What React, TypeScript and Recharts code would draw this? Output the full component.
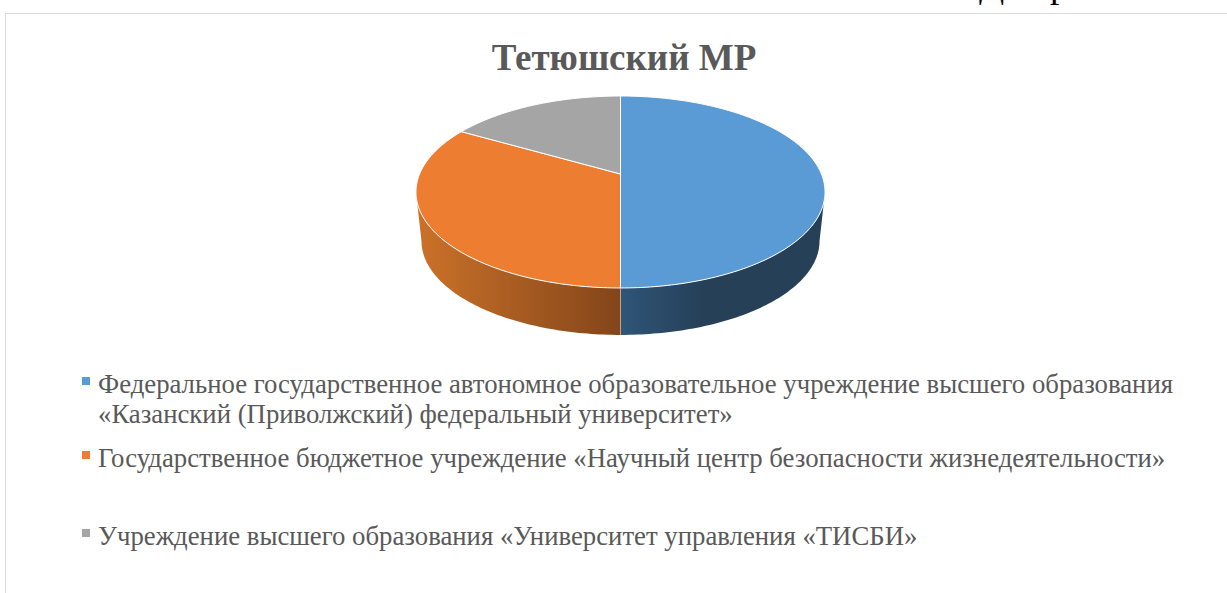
import { Legend, Pie, PieChart } from 'recharts';

const CATEGORIES = [
  'Федеральное государственное автономное образовательное учреждение высшего образования «Казанский (Приволжский) федеральный университет»',
  'Государственное бюджетное учреждение «Научный центр безопасности жизнедеятельности»',
  'Учреждение высшего образования «Университет управления «ТИСБИ»',
];
const VALUES = [3, 2, 1];
const COLORS = ['#5b9bd5', '#ed7d31', '#a5a5a5'];

const TITLE = 'Тетюшский МР';
const SERIF = '"Liberation Serif", serif';
const LEGEND_TOPS = [369, 443, 521];

const data = CATEGORIES.map((name, i) => ({ name, value: VALUES[i], fill: COLORS[i] }));

// the tilted disc: perspective makes the apex sit above the ellipse centre
const K = 0.1875;
const DISC = { ay: 174, h: 92.6, w: 200.9 };
const BASE = { ay: 223.3, h: 90.7, w: 195.5 };
const RIGHT_EDGE = 100.8;
const LEFT_EDGE = 259.2;

const project = (cx: number, disc: typeof DISC, deg: number) => {
  const t = (deg * Math.PI) / 180;
  const d = 1 + K * Math.cos(t);
  return [cx + (disc.w * Math.sin(t)) / d, disc.ay - (disc.h * Math.cos(t)) / d];
};

const arc = (cx: number, disc: typeof DISC, from: number, to: number) => {
  const pts: number[][] = [];
  const steps = Math.max(2, Math.ceil(Math.abs(to - from)));
  for (let i = 0; i <= steps; i++) pts.push(project(cx, disc, from + ((to - from) * i) / steps));
  return pts;
};

const toPath = (pts: number[][]) =>
  'M' + pts.map((p) => `${p[0].toFixed(2)},${p[1].toFixed(2)}`).join('L') + 'Z';

const Slice3D = (props: any) => {
  const { cx, startAngle, endAngle, fill, index } = props;
  const from = 90 - startAngle;
  const to = 90 - endAngle;
  const wallFrom = Math.max(from, RIGHT_EDGE);
  const wallTo = Math.min(to, LEFT_EDGE);
  const gradientId = `wall-${index}`;
  const top = toPath([[cx, DISC.ay], ...arc(cx, DISC, from, to)]);
  return (
    <g>
      {wallTo > wallFrom && (
        <>
          <defs>
            <linearGradient id={gradientId} x1="0" x2="1" y1="0" y2="0">
              {index === 0 ? (
                <>
                  <stop offset="0" stopColor="#2f5578" />
                  <stop offset="0.4" stopColor="#264058" />
                  <stop offset="1" stopColor="#264058" />
                </>
              ) : (
                <>
                  <stop offset="0" stopColor="#cc7229" />
                  <stop offset="1" stopColor="#83451a" />
                </>
              )}
            </linearGradient>
          </defs>
          <path
            d={toPath([...arc(cx, DISC, wallFrom, wallTo), ...arc(cx, BASE, wallTo, wallFrom)])}
            fill={`url(#${gradientId})`}
          />
          {index === 0 && (
            <path d={`M${cx},${project(cx, DISC, 180)[1]}V${project(cx, BASE, 180)[1]}`} stroke="#fff" strokeWidth={1} />
          )}
        </>
      )}
      <path d={top} fill={fill} stroke="#fff" strokeWidth={1} strokeLinejoin="round" />
    </g>
  );
};

const LegendBlock = ({ payload }: any) => (
  <div style={{ position: 'relative', width: 1227, height: 0 }}>
    {(payload || []).map((entry: any, i: number) => (
      <div
        key={entry.value}
        style={{
          position: 'absolute',
          left: 98,
          top: LEGEND_TOPS[i],
          width: 1085,
          fontFamily: SERIF,
          fontSize: 26.75,
          lineHeight: '30px',
          color: '#595959',
        }}
      >
        <span
          style={{
            position: 'absolute',
            left: -16,
            top: 8,
            width: 8,
            height: 8,
            background: entry.color,
          }}
        />
        {entry.value}
      </div>
    ))}
  </div>
);

export default function App() {
  return (
    <div style={{ position: 'absolute', left: 0, top: 0, width: 1227, height: 593, overflow: 'hidden', background: '#fff' }}>
      <div style={{ position: 'absolute', left: 5, top: 13, width: 1222, height: 580, borderTop: '1.5px solid #d9d9d9', borderLeft: '1.5px solid #d9d9d9', boxSizing: 'border-box' }} />
      <div style={{ position: 'absolute', left: 979, top: -34, fontFamily: SERIF, fontSize: 37, lineHeight: '37px', color: '#000' }}>Д</div>
      <div style={{ position: 'absolute', left: 1050, top: -34, fontFamily: SERIF, fontSize: 37, lineHeight: '37px', color: '#000' }}>р</div>
      <PieChart width={1227} height={593} margin={{ top: 0, right: 0, bottom: 0, left: 0 }} style={{ position: 'absolute', left: 0, top: 0 }}>
        <text x={624} y={70} textAnchor="middle" fontFamily={SERIF} fontSize={37} fontWeight="bold" fill="#595959">
          {TITLE}
        </text>
        <Pie
          data={data}
          dataKey="value"
          nameKey="name"
          cx={620.5}
          cy={174}
          outerRadius={200}
          startAngle={90}
          endAngle={-270}
          stroke="none"
          shape={Slice3D}
          isAnimationActive={false}
        />
        <Legend content={LegendBlock} itemSorter={null} verticalAlign="top" wrapperStyle={{ left: 0, top: 0, width: 1227 }} />
      </PieChart>
    </div>
  );
}
